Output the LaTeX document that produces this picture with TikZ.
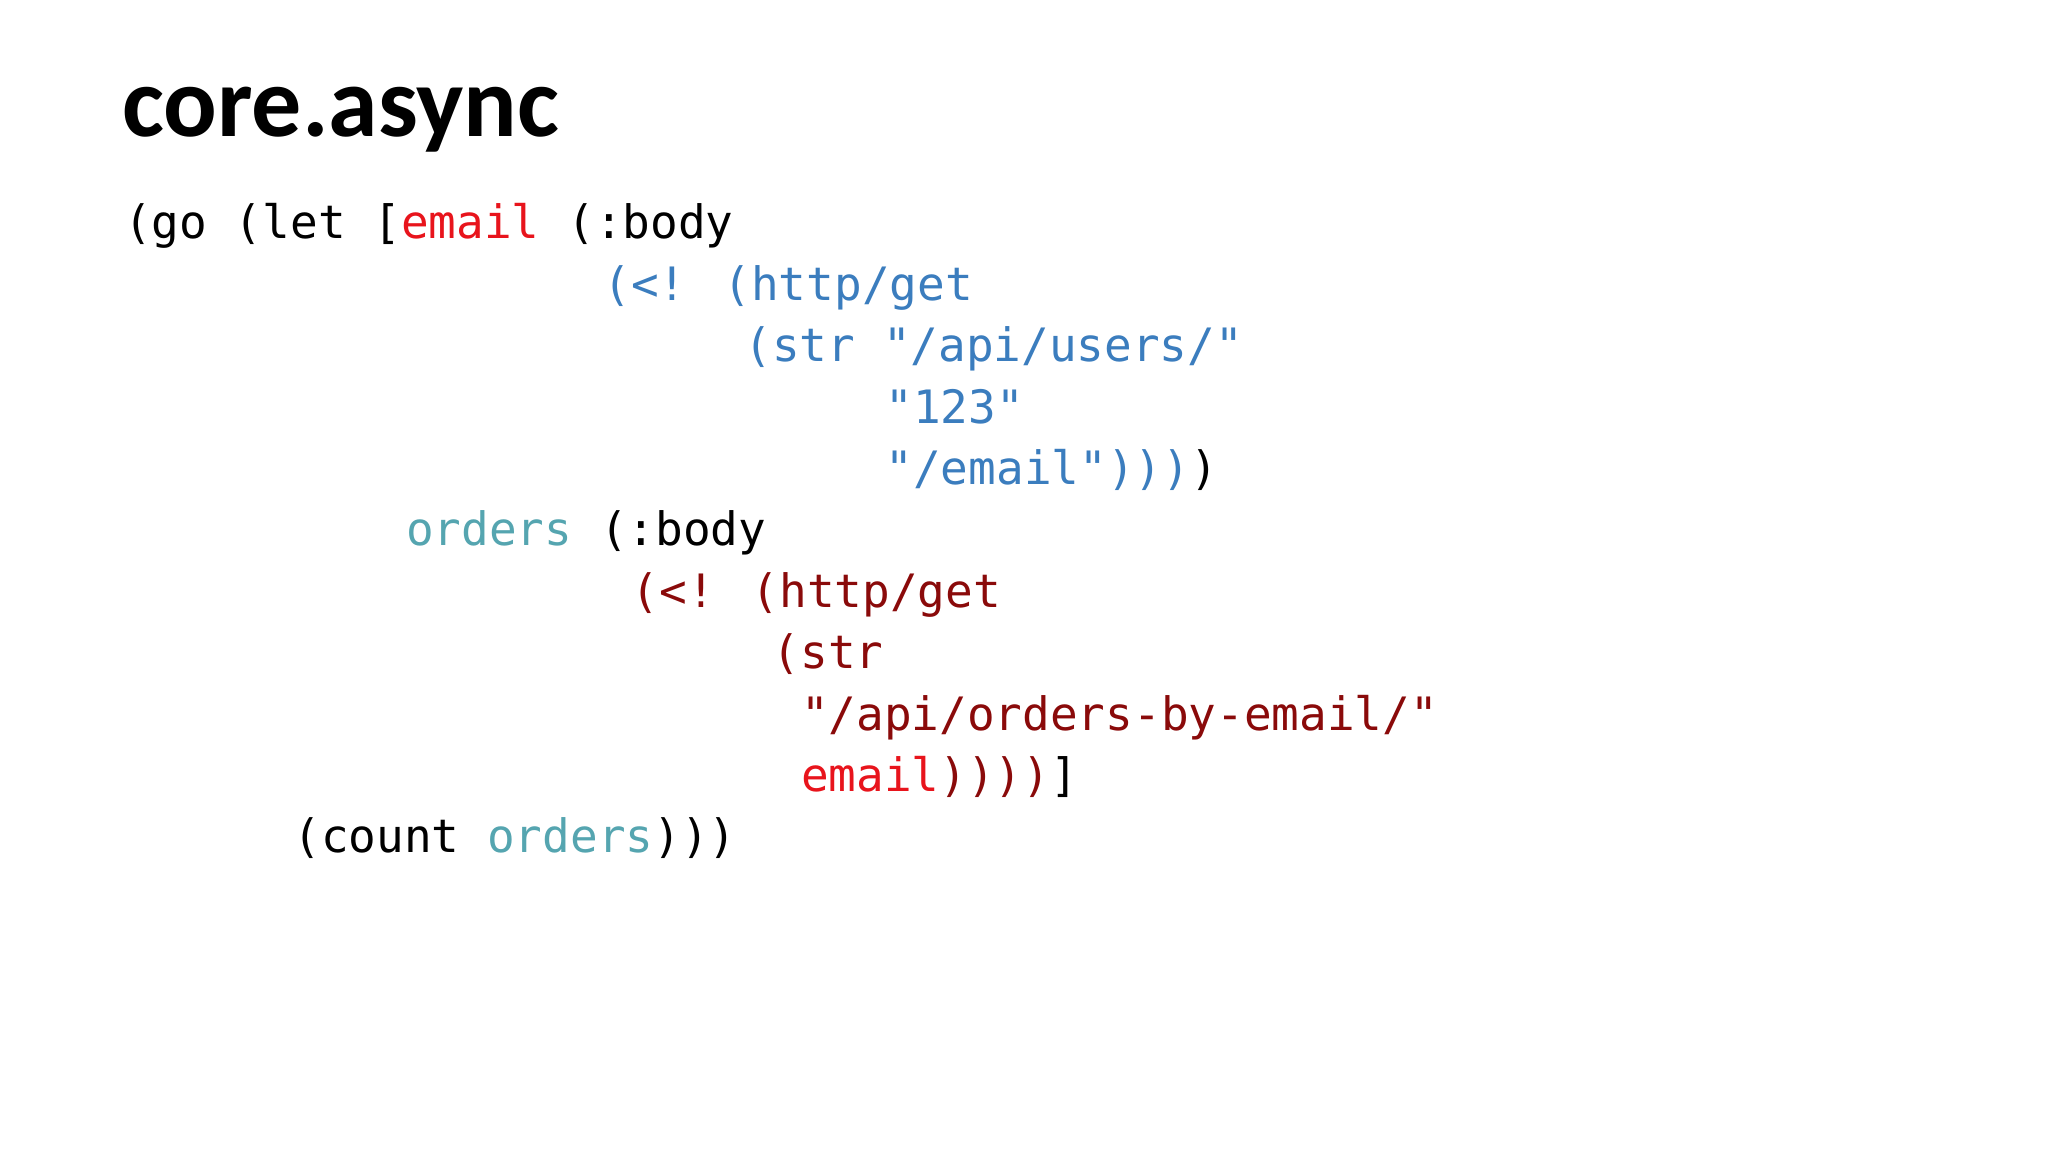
\documentclass[tikz,border=0pt]{standalone}
\usepackage{fontspec}
\newfontfamily\titlefont{Carlito}
\newfontfamily\codefont{DejaVu Sans Mono}[Scale=1.0]
\definecolor{cred}{HTML}{E8141C}
\definecolor{cblue}{HTML}{3B7DBE}
\definecolor{cteal}{HTML}{55A5B0}
\definecolor{cdark}{HTML}{8A0A0A}
\begin{document}
\begin{tikzpicture}[x=1pt,y=1pt,
  code/.style={anchor=base west,inner sep=0pt,font=\codefont\fontsize{46}{46}\selectfont}]
\useasboundingbox (0,0) rectangle (2048,1152);
\fill[white] (0,0) rectangle (2048,1152);
\node[anchor=base west,inner sep=0pt,font=\titlefont\bfseries\fontsize{100}{100}\selectfont] (title) at (122,1152-137) {core.async};
\def\cw{28.2}\def\ls{61.4}\def\x0{124}\def\y0{913}
\node[code] (l1) at (\x0,\y0) {(go (let [\textcolor{cred}{email} (:body};
\node[code,text=cblue] (l2) at (\x0+17*\cw,\y0-\ls) {(<! (http/get};
\node[code,text=cblue] (l3) at (\x0+22*\cw,\y0-2*\ls) {(str "/api/users/"};
\node[code,text=cblue] (l4) at (\x0+27*\cw,\y0-3*\ls) {"123"};
\node[code,text=cblue] (l5) at (\x0+27*\cw,\y0-4*\ls) {"/email")))\textcolor{black}{)}};
\node[code] (l6) at (\x0+10*\cw,\y0-5*\ls) {\textcolor{cteal}{orders} (:body};
\node[code,text=cdark] (l7) at (\x0+18*\cw,\y0-6*\ls) {(<! (http/get};
\node[code,text=cdark] (l8) at (\x0+23*\cw,\y0-7*\ls) {(str};
\node[code,text=cdark] (l9) at (\x0+24*\cw,\y0-8*\ls) {"/api/orders-by-email/"};
\node[code,text=cdark] (l10) at (\x0+24*\cw,\y0-9*\ls) {\textcolor{cred}{email}))))\textcolor{black}{]}};
\node[code] (l11) at (\x0+6*\cw,\y0-10*\ls) {(count \textcolor{cteal}{orders})))};
\end{tikzpicture}
\end{document}
